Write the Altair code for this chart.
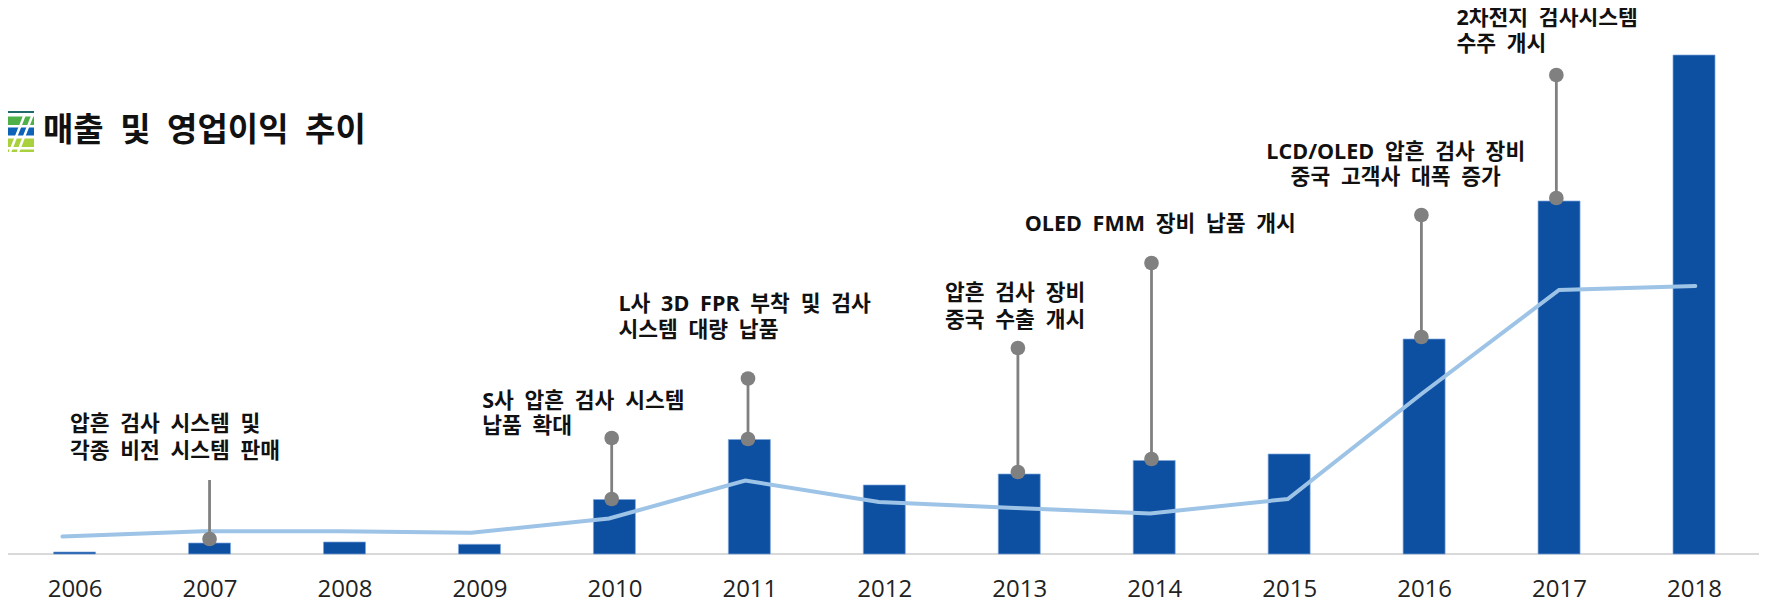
import altair as alt
import pandas as pd

years = list(range(2006, 2019))
bar_values = [2, 11, 12, 9.7, 54.5, 114.5, 69, 80, 93.5, 100, 215, 353, 499]

line_x = [2005.91, 2006.95, 2007.96, 2008.94, 2009.96, 2010.97, 2011.96, 2012.97, 2013.97, 2014.99, 2015.98, 2017.0, 2018.01]
line_values = [17.5, 22.7, 22.7, 21.3, 35.5, 73.5, 52, 46, 40.6, 55, 160, 264, 268]

lolli_x = [2007.0, 2009.98, 2010.99, 2012.99, 2013.98, 2015.98, 2016.98]
lolli_low = [15, 55, 115, 82, 95, 217, 356]
lolli_high = [74, 116, 175.5, 206, 291, 339, 479]
lolli_top_dot = [False, True, True, True, True, True, True]

note_text = [
    "압흔 검사 시스템 및", "각종 비전 시스템 판매",
    "S사 압흔 검사 시스템", "납품 확대",
    "L사 3D FPR 부착 및 검사", "시스템 대량 납품",
    "압흔 검사 장비", "중국 수출 개시",
    "OLED FMM 장비 납품 개시",
    "2차전지 검사시스템", "수주 개시",
]
note_x = [2005.965, 2005.965, 2009.02, 2009.02, 2010.03, 2010.03, 2012.45, 2012.45, 2013.04, 2016.24, 2016.24]
note_y = [129, 102, 152, 127, 249, 223, 260, 233, 329, 535, 509]

center_text = ["LCD/OLED 압흔 검사 장비", "중국 고객사 대폭 증가"]
center_x = [2015.79, 2015.79]
center_y = [401, 376]

title_text = ["매출 및 영업이익 추이"]

FONT = "Open Sans, Noto Sans CJK KR"


def wide(s):
    # the reference sets its word gaps at about half an em
    return s.replace(" ", "\u2002")


x_scale = alt.Scale(domain=[2006, 2018], range=[66.6, 1686], zero=False, nice=False, padding=0)
y_scale = alt.Scale(domain=[0, 546], range=[546, 0], zero=False, nice=False)

xq = lambda f: alt.X(f, type="quantitative", scale=x_scale, title=None)
yq = lambda f: alt.Y(f, type="quantitative", scale=y_scale, axis=None, title=None)

bars_df = pd.DataFrame({"year": years, "value": bar_values})
bars = alt.Chart(bars_df).mark_bar(size=42, color="#0D4FA0", stroke="#7FA8DC", strokeWidth=0.7).encode(
    x=alt.X("year:Q", scale=x_scale, title=None,
            axis=alt.Axis(values=years, format="d", domain=False, ticks=False, grid=False,
                          labelFontSize=24, labelColor="#222222", labelFont=FONT,
                          labelPadding=23, labelOverlap=False, labelFlush=False, labelBound=False)),
    y=yq("value"),
)

baseline = alt.Chart(pd.DataFrame({"a": [0], "b": [1751], "v": [0]})).mark_rule(color="#D9D9D9", strokeWidth=2).encode(
    x=alt.X("a:Q", scale=None), x2="b:Q", y=yq("v"))

line_df = pd.DataFrame({"x": line_x, "v": line_values})
line = alt.Chart(line_df).mark_line(color="#9DC3E6", strokeWidth=4, strokeCap="round").encode(
    x=xq("x"), y=yq("v"))

lolli_df = pd.DataFrame({"x": lolli_x, "low": lolli_low, "high": lolli_high, "top": lolli_top_dot})
stems = alt.Chart(lolli_df).mark_rule(color="#808080", strokeWidth=2.8).encode(
    x=xq("x"), y=yq("low"), y2="high:Q")
low_dots = alt.Chart(lolli_df).mark_circle(size=215, color="#808080", opacity=1).encode(
    x=xq("x"), y=yq("low"))
high_dots = alt.Chart(lolli_df[lolli_df["top"]]).mark_circle(size=215, color="#808080", opacity=1).encode(
    x=xq("x"), y=yq("high"))

notes_df = pd.DataFrame({"t": [wide(s) for s in note_text], "x": note_x, "y": note_y})
notes = alt.Chart(notes_df).mark_text(align="left", baseline="middle", font=FONT, fontWeight="bold",
                                      fontSize=21.5, color="#111111").encode(
    x=xq("x"), y=yq("y"), text="t:N")

center_df = pd.DataFrame({"t": [wide(s) for s in center_text], "x": center_x, "y": center_y})
center = alt.Chart(center_df).mark_text(align="center", baseline="middle", font=FONT, fontWeight="bold",
                                        fontSize=21.5, color="#111111").encode(
    x=xq("x"), y=yq("y"), text="t:N")

title = alt.Chart(pd.DataFrame({"t": [wide(s) for s in title_text], "x": [35], "y": [122.5]})).mark_text(
    align="left", baseline="middle", font=FONT, fontWeight="bold", fontSize=33, color="#111111").encode(
    x=alt.X("x:Q", scale=None), y=alt.Y("y:Q", scale=None), text="t:N")

# small logo beside the title
logo_bands = pd.DataFrame({
    "x0": [0] * 5, "x1": [26] * 5,
    "y0": [103, 108.5, 119.5, 130.5, 141.5],
    "y1": [105, 117, 127.5, 139, 144],
    "c": ["#1F6B6B", "#4FB04A", "#0D63B8", "#A9D13E", "#A9D13E"],
})
logo = alt.Chart(logo_bands).mark_rect().encode(
    x=alt.X("x0:Q", scale=None), x2="x1:Q",
    y=alt.Y("y0:Q", scale=None), y2="y1:Q",
    color=alt.Color("c:N", scale=None),
)
logo_slash = pd.DataFrame({"x0": [17, 25], "x1": [2, 10], "y0": [106, 106], "y1": [144, 144]})
slashes = alt.Chart(logo_slash).mark_rule(color="white", strokeWidth=2.5).encode(
    x=alt.X("x0:Q", scale=None), x2="x1:Q",
    y=alt.Y("y0:Q", scale=None), y2="y1:Q",
)

chart = alt.layer(
    baseline, bars, line, stems, low_dots, high_dots, notes, center, logo, slashes, title
).properties(
    width=1751, height=546, background="white",
    padding={"left": 0, "top": 0, "right": 0, "bottom": 47},
    autosize=alt.AutoSizeParams(type="none"),
).configure_view(stroke=None)

chart.save("out.html", embed_options={"renderer": "svg", "actions": False})
